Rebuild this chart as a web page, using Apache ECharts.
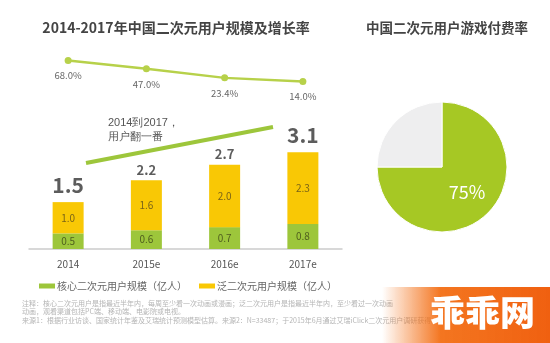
<!DOCTYPE html>
<html><head><meta charset="utf-8">
<script src="https://cdn.jsdelivr.net/npm/echarts@6/dist/echarts.min.js"></script>
<style>html,body{margin:0;padding:0;background:#fff}#c{width:550px;height:343px}</style>
</head><body><div id="c"></div>
<script>
const categories = ['2014', '2015e', '2016e', '2017e'];
const growthRate = [68.0, 47.0, 23.4, 14.0];
const coreUsers = [0.5, 0.6, 0.7, 0.8];
const panUsers = [1.0, 1.6, 2.0, 2.3];
const totals = [1.5, 2.2, 2.7, 3.1];
const pieData = [{name: '付费', value: 75}, {name: '未付费', value: 25}];

const FONT = '"Noto Sans CJK SC","Noto Sans",sans-serif';
const GREEN = '#9dc63b', YELLOW = '#f9c805', LINE = '#b7d14a';
const chart = echarts.init(document.getElementById('c'), null, {renderer: 'canvas'});
chart.setOption({
  animation: false,
  textStyle: {fontFamily: FONT},
  title: [
    {text: '2014-2017年中国二次元用户规模及增长率', left: 171, top: 16, textAlign: 'center',
     textStyle: {fontSize: 14, fontWeight: 'bold', color: '#444', fontFamily: FONT}},
    {text: '中国二次元用户游戏付费率', left: 442, top: 16, textAlign: 'center',
     textStyle: {fontSize: 13.5, fontWeight: 'bold', color: '#444', fontFamily: FONT}}
  ],
  legend: {
    left: 34, top: 276, itemWidth: 16, itemHeight: 5, itemGap: 12,
    icon: 'rect',
    textStyle: {fontSize: 10, color: '#666', fontFamily: FONT, padding: [0,0,0,-3]},
    data: ['核心二次元用户规模（亿人）', '泛二次元用户规模（亿人）']
  },
  grid: [
    {left: 29, width: 313, top: 48, height: 39},
    {left: 29, width: 313, top: 124, height: 125}
  ],
  xAxis: [
    {gridIndex: 0, type: 'category', data: categories, show: false},
    {gridIndex: 1, type: 'category', data: categories,
     axisLine: {lineStyle: {color: '#ccc', width: 1.5}}, axisTick: {show: false},
     axisLabel: {fontSize: 10, color: '#555', margin: 10, fontFamily: FONT}}
  ],
  yAxis: [
    {gridIndex: 0, type: 'value', min: 0, max: 100, show: false},
    {gridIndex: 1, type: 'value', min: 0, max: 4, show: false}
  ],
  series: [
    {type: 'line', xAxisIndex: 0, yAxisIndex: 0, data: growthRate,
     lineStyle: {color: LINE, width: 2.5}, itemStyle: {color: LINE},
     symbol: 'circle', symbolSize: 7,
     label: {show: true, position: 'bottom', distance: 7, fontSize: 9.5, color: '#666',
             formatter: p => p.value.toFixed(1) + '%'}},
    {name: '核心二次元用户规模（亿人）', type: 'bar', stack: 's', xAxisIndex: 1, yAxisIndex: 1,
     data: coreUsers, barWidth: 31, itemStyle: {color: GREEN},
     label: {show: true, position: 'inside', fontSize: 10, color: '#4f5e1e',
             formatter: p => p.value.toFixed(1)}},
    {name: '泛二次元用户规模（亿人）', type: 'bar', stack: 's', xAxisIndex: 1, yAxisIndex: 1,
     data: panUsers, barWidth: 31, itemStyle: {color: YELLOW},
     label: {show: true, position: 'inside', fontSize: 10, color: '#7a6418',
             formatter: p => p.value.toFixed(1)}},
    {type: 'scatter', xAxisIndex: 1, yAxisIndex: 1, symbolSize: 0, silent: true,
     data: totals.map((v, i) => ({value: v, label: {
       fontSize: (i === 0 || i === 3) ? 21 : 13,
       distance: (i === 0 || i === 3) ? 7 : 4}})),
     label: {show: true, position: 'top', fontWeight: 'bold', color: '#333',
             fontFamily: FONT, formatter: p => p.value.toFixed(1)}},
    {type: 'pie', center: [442, 167], radius: 65, startAngle: 90, clockwise: true,
     silent: true,
     data: pieData.map((d, i) => ({...d, itemStyle: {color: i === 0 ? '#a6c824' : '#eeeeef'}})),
     itemStyle: {borderColor: '#fff', borderWidth: 1},
     label: {show: true, position: 'inside', fontSize: 18, color: '#fff', fontFamily: FONT,
             formatter: p => p.dataIndex === 0 ? p.value + '%' : ''},
     labelLine: {show: false}}
  ],
  graphic: [
    {type: 'line', shape: {x1: 86, y1: 163, x2: 273, y2: 127},
     style: {stroke: GREEN, lineWidth: 4}},
    {type: 'text', left: 108, top: 116,
     style: {text: '2014到2017，\n用户翻一番', fontSize: 11, lineHeight: 14, fill: '#555', font: '11px ' + FONT}},
    {type: 'text', left: 22, top: 299,
     style: {text: '注释：核心二次元用户是指最近半年内，每周至少看一次动画或漫画；泛二次元用户是指最近半年内，至少看过一次动画\n动画，观看渠道包括PC端、移动端、电影院或电视。\n来源1：根据行业访谈、国家统计年鉴及艾瑞统计预测模型估算。来源2：N=33487；于2015年6月通过艾瑞iClick二次元用户调研获得。',
             fill: '#b5b5b5', font: '7px ' + FONT, lineHeight: 8.5}},
    {type: 'rect', shape: {x: 382, y: 287, width: 168, height: 56},
     style: {fill: new echarts.graphic.LinearGradient(0, 0, 1, 0, [
       {offset: 0, color: 'rgba(243,110,20,0)'},
       {offset: 0.35, color: 'rgba(243,110,20,0.95)'},
       {offset: 1, color: '#f06010'}])}},
    {type: 'text', left: 430, top: 295,
     style: {text: '乖乖网', fill: '#fff', font: '900 35px ' + FONT}}
  ]
});
</script></body></html>
